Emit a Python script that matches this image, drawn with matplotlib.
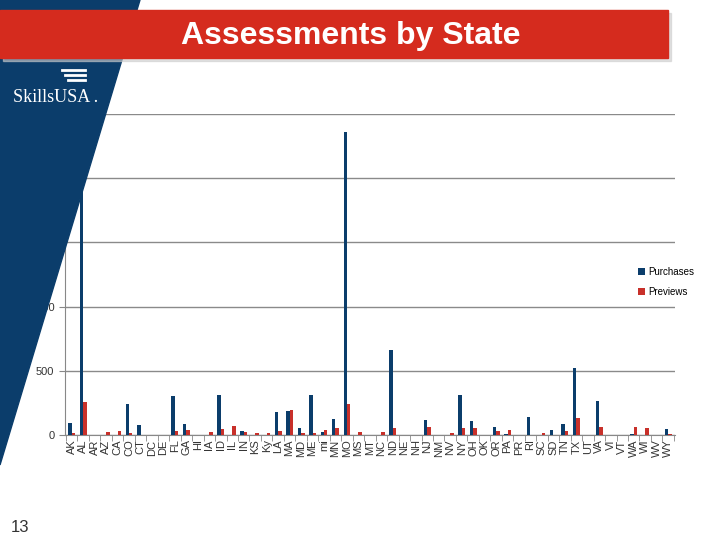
import matplotlib.pyplot as plt
import matplotlib.patches as mpatches
import numpy as np

plt.rcParams["font.family"] = ["Liberation Sans", "DejaVu Sans"]

states = ["AK", "AL", "AR", "AZ", "CA", "CO", "CT", "DC", "DE", "FL", "GA", "HI", "IA", "ID",
          "IL", "IN", "KS", "Ky", "LA", "MA", "MD", "ME", "mi", "MN", "MO", "MS", "MT", "NC",
          "ND", "NE", "NH", "NJ", "NM", "NV", "NY", "OH", "OK", "OR", "PA", "PR", "RI", "SC",
          "SD", "TN", "TX", "UT", "VA", "VI", "VT", "WA", "WI", "WV", "WY"]
purchases = [96, 1950, 0, 0, 0, 242, 78, 0, 0, 305, 86, 0, 0, 312,
             0, 31, 0, 0, 180, 187, 55, 312, 23, 125, 2359, 0, 0, 0,
             664, 0, 0, 117, 0, 0, 312, 109, 0, 62, 8, 0, 140, 0,
             39, 86, 523, 0, 266, 0, 0, 8, 0, 0, 47]
previews = [18, 260, 5, 25, 30, 15, 0, 0, 0, 30, 42, 0, 25, 47,
            70, 26, 16, 16, 30, 195, 18, 16, 39, 55, 242, 26, 0, 23,
            55, 5, 0, 62, 5, 18, 55, 55, 5, 31, 39, 0, 0, 16,
            0, 31, 133, 0, 62, 0, 0, 62, 55, 0, 8]

navy = "#0b3d6b"
red = "#c8302a"

fig = plt.figure(figsize=(7.2, 5.4), dpi=100)

# chart
ax = fig.add_axes([0.090, 0.194, 0.8475, 0.595])
ax.patch.set_alpha(0)
x = np.arange(len(states))
w = 0.3
ax.bar(x - w / 2, purchases, w, color=navy, label="Purchases", zorder=3)
ax.bar(x + w / 2, previews, w, color=red, label="Previews", zorder=3)
ax.set_xlim(-0.6, len(states) - 0.4)
ax.set_ylim(0, 2500)
ax.set_yticks(np.arange(0, 2501, 500))
ax.yaxis.grid(True, color="#8a8a8a", linewidth=1)
ax.set_axisbelow(True)
ax.set_xticks(x)
ax.set_xticklabels(states, rotation=90, fontsize=8, color="#333333")
ax.set_xticks(np.arange(-0.5, len(states), 1), minor=True)
ax.tick_params(axis="x", which="major", length=0, pad=3)
ax.tick_params(axis="x", which="minor", length=4, color="#888888")
ax.tick_params(axis="y", length=4, color="#888888", labelsize=8, labelcolor="#333333")
for s in ["top", "right"]:
    ax.spines[s].set_visible(False)
ax.spines["left"].set_color("#888888")
ax.spines["bottom"].set_color("#888888")
ax.legend(loc="upper left", bbox_to_anchor=(0.925, 0.55), frameon=False, fontsize=7,
          handlelength=0.7, handleheight=0.7, handletextpad=0.4, labelspacing=1.0)

# slide decorations on top
deco = fig.add_axes([0, 0, 1, 1], zorder=5)
deco.set_xlim(0, 720)
deco.set_ylim(540, 0)
deco.axis("off")
deco.patch.set_alpha(0)
deco.add_patch(mpatches.Polygon([(0, 0), (140, 0), (0, 465)], closed=True, color=navy))
deco.add_patch(mpatches.Rectangle((3, 13), 668, 48, color="#cccccc", alpha=0.6))
deco.add_patch(mpatches.Rectangle((0, 10), 668, 48, color="#d52b1e"))
deco.text(351, 36, "Assessments by State", color="white", fontsize=23, fontweight="bold",
          ha="center", va="center")
for i in range(3):
    deco.plot([62 + i * 3, 85], [70 + i * 5, 70 + i * 5], color="white", linewidth=2)
deco.text(13, 98, "SkillsUSA .", color="white", fontsize=13, family="Liberation Serif",
          va="center")
deco.text(20, 528, "13", color="#333333", fontsize=12, va="center", ha="center")

fig.savefig("out.png", dpi=100)
